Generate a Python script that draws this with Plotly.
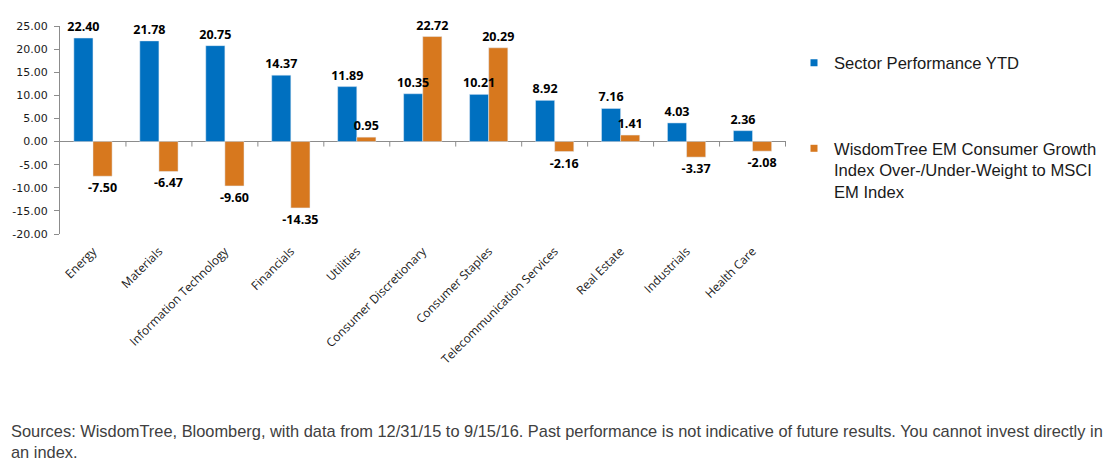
import plotly.graph_objects as go

categories = ["Energy", "Materials", "Information Technology", "Financials", "Utilities",
              "Consumer Discretionary", "Consumer Staples", "Telecommunication Services",
              "Real Estate", "Industrials", "Health Care"]
sector_perf = [22.40, 21.78, 20.75, 14.37, 11.89, 10.35, 10.21, 8.92, 7.16, 4.03, 2.36]
over_under = [-7.50, -6.47, -9.60, -14.35, 0.95, 22.72, 20.29, -2.16, 1.41, -3.37, -2.08]
y_ticks = [25, 20, 15, 10, 5, 0, -5, -10, -15, -20]

name1 = "Sector Performance YTD"
name2 = "WisdomTree EM Consumer Growth<br>Index Over-/Under-Weight to MSCI<br>EM Index"
blue = "#0070C0"
orange = "#D7781E"
axis_grey = "#8C8C8C"

fig = go.Figure()
label_font = dict(family="Open Sans", size=12.5, color="black", weight="bold")
# coloured bars
fig.add_trace(go.Bar(x=categories, y=sector_perf, marker_color=blue, name=name1,
                     offsetgroup="a", showlegend=False))
fig.add_trace(go.Bar(x=categories, y=over_under, marker_color=orange, name=name2,
                     offsetgroup="b", showlegend=False))
# value labels drawn on top of all bars
for vals, grp in ((sector_perf, "a"), (over_under, "b")):
    fig.add_trace(go.Bar(x=categories, y=vals, offsetgroup=grp,
                         marker=dict(color="rgba(0,0,0,0)", line=dict(width=0)),
                         text=[f"{v:.2f}" for v in vals], textposition="outside",
                         textfont=label_font, cliponaxis=False, constraintext="none",
                         showlegend=False, hoverinfo="skip"))
# legend entries with small square markers
fig.add_trace(go.Scatter(x=[None], y=[None], mode="markers", name=name1,
                         marker=dict(symbol="square", size=7, color=blue), legend="legend"))
fig.add_trace(go.Scatter(x=[None], y=[None], mode="markers", name=name2,
                         marker=dict(symbol="square", size=7, color=orange), legend="legend2"))

# category boundary tick marks on the zero line
shapes = []
for i in range(len(categories)):
    shapes.append(dict(type="line", xref="x", yref="y", x0=i + 0.5, x1=i + 0.5,
                       ysizemode="pixel", yanchor=0, y0=0, y1=-5,
                       line=dict(color=axis_grey, width=1)))

legend_font = dict(family="Liberation Sans", size=16.6, color="#1a1a1a")
fig.update_layout(
    width=1112, height=473,
    margin=dict(l=60, r=326, t=26, b=239, autoexpand=False),
    paper_bgcolor="white", plot_bgcolor="white",
    barmode="group", bargap=0.42, bargroupgap=0,
    shapes=shapes,
    xaxis=dict(tickangle=-45, tickfont=dict(family="Open Sans", size=12, color="#1a1a1a"),
               showline=False, ticks="", showgrid=False, ticklabelstandoff=7),
    yaxis=dict(range=[-20, 25], tickvals=y_ticks, ticktext=[f"{v:.2f}" for v in y_ticks],
               tickfont=dict(family="DejaVu Sans", size=11, color="#1a1a1a"),
               showline=True, linecolor=axis_grey, ticks="outside", ticklen=5,
               tickcolor=axis_grey, showgrid=False, zeroline=True,
               zerolinecolor=axis_grey, zerolinewidth=1, ticklabelstandoff=4),
    legend=dict(xref="container", yref="container", x=794 / 1112, y=(473 - 63) / 473,
                xanchor="left", yanchor="middle", font=legend_font,
                bgcolor="rgba(0,0,0,0)", itemwidth=30),
    legend2=dict(xref="container", yref="container", x=794 / 1112, y=(473 - 131) / 473,
                 xanchor="left", yanchor="top", font=legend_font,
                 bgcolor="rgba(0,0,0,0)", itemwidth=30, valign="top"),
    annotations=[dict(text="Sources: WisdomTree, Bloomberg, with data from 12/31/15 to 9/15/16. "
                           "Past performance is not indicative of future results. You cannot invest directly in"
                           "<br>an index.",
                      xref="paper", yref="paper", x=-51 / 726, y=-186 / 208,
                      xanchor="left", yanchor="top", align="left", showarrow=False,
                      font=dict(family="Liberation Sans", size=16.4, color="#404040"))],
)

fig.write_html("out.html")
